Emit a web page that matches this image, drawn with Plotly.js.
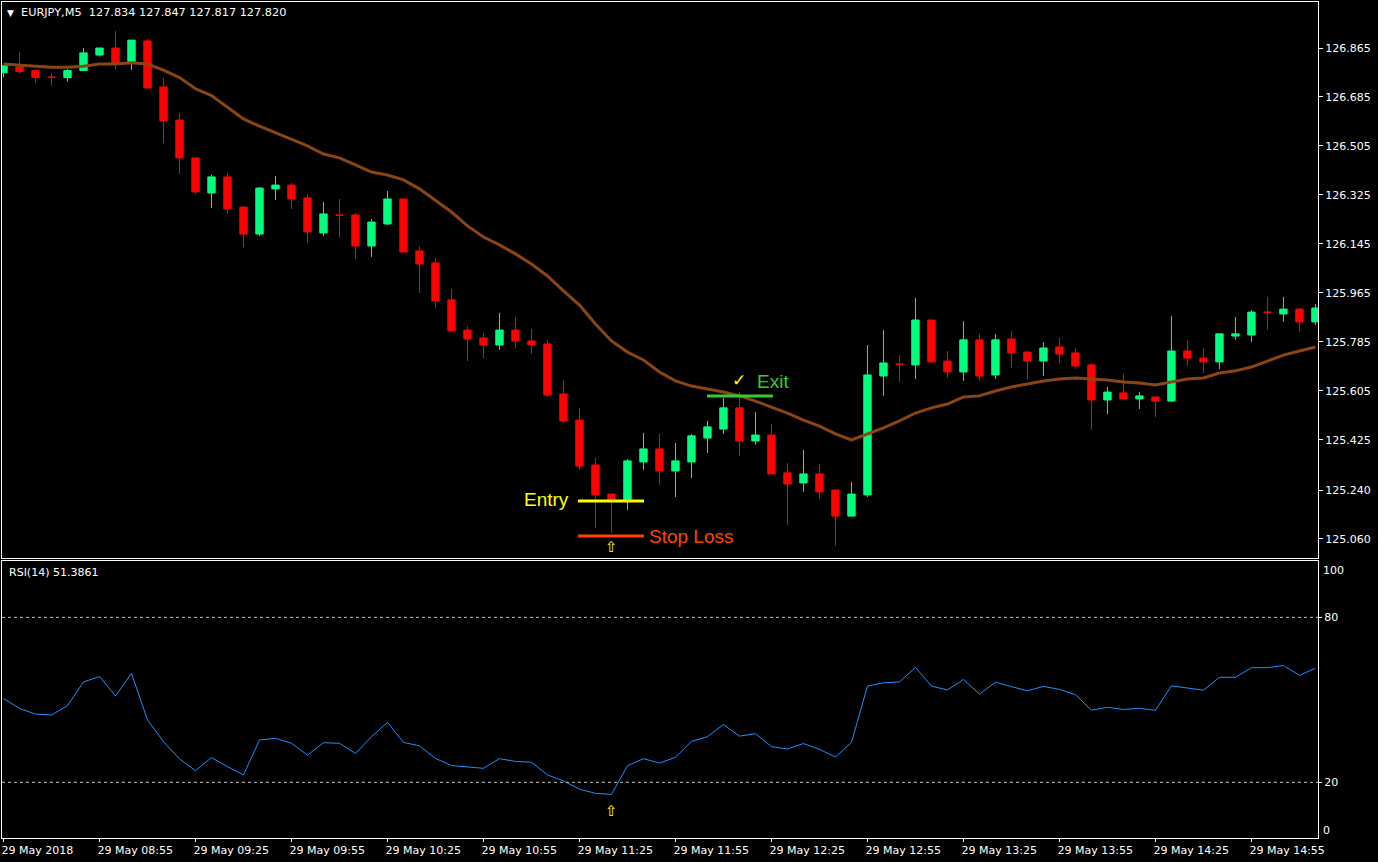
<!DOCTYPE html>
<html>
<head>
<meta charset="utf-8">
<script src="https://cdn.plot.ly/plotly-3.0.1.min.js"></script>
<style>
  html, body { margin: 0; padding: 0; background: #000; }
  #chart { width: 1378px; height: 862px; }
</style>
</head>
<body>
<div id="chart"></div>
<script>
// ---- Data (EURJPY, M5, 29 May 2018) ----
const times = [
  "08:25","08:30","08:35","08:40","08:45","08:50","08:55","09:00","09:05","09:10",
  "09:15","09:20","09:25","09:30","09:35","09:40","09:45","09:50","09:55","10:00",
  "10:05","10:10","10:15","10:20","10:25","10:30","10:35","10:40","10:45","10:50",
  "10:55","11:00","11:05","11:10","11:15","11:20","11:25","11:30","11:35","11:40",
  "11:45","11:50","11:55","12:00","12:05","12:10","12:15","12:20","12:25","12:30",
  "12:35","12:40","12:45","12:50","12:55","13:00","13:05","13:10","13:15","13:20",
  "13:25","13:30","13:35","13:40","13:45","13:50","13:55","14:00","14:05","14:10",
  "14:15","14:20","14:25","14:30","14:35","14:40","14:45","14:50","14:55","15:00",
  "15:05","15:10","15:15"
];

const open = [
  126.774,126.795,126.782,126.758,126.756,126.782,126.839,126.865,126.815,126.891,
  126.722,126.600,126.461,126.332,126.391,126.280,126.181,126.347,126.361,126.314,
  126.185,126.251,126.251,126.137,126.218,126.310,126.119,126.075,125.939,125.828,
  125.799,125.773,125.828,125.788,125.777,125.593,125.497,125.332,125.225,125.203,
  125.343,125.391,125.310,125.343,125.431,125.464,125.542,125.420,125.442,125.303,
  125.266,125.299,125.240,125.144,125.222,125.659,125.703,125.700,125.865,125.714,
  125.674,125.792,125.663,125.795,125.747,125.714,125.766,125.744,125.700,125.571,
  125.597,125.575,125.582,125.567,125.751,125.725,125.711,125.806,125.810,125.894,
  125.887,125.905,125.858
];
const high = [
  126.800,126.850,126.787,126.773,126.787,126.865,126.865,126.928,126.894,126.898,
  126.755,126.626,126.461,126.399,126.405,126.284,126.354,126.394,126.369,126.328,
  126.299,126.310,126.258,126.236,126.339,126.310,126.137,126.093,125.979,125.843,
  125.817,125.891,125.876,125.832,125.792,125.644,125.542,125.358,125.225,125.354,
  125.450,125.446,125.413,125.446,125.494,125.578,125.600,125.527,125.483,125.339,
  125.387,125.336,125.244,125.269,125.773,125.828,125.736,125.946,125.865,125.751,
  125.861,125.814,125.814,125.825,125.751,125.784,125.799,125.762,125.707,125.619,
  125.667,125.600,125.582,125.880,125.792,125.762,125.814,125.876,125.902,125.950,
  125.950,125.909,125.924
];
const low = [
  126.757,126.771,126.737,126.726,126.741,126.782,126.833,126.788,126.784,126.714,
  126.516,126.402,126.328,126.277,126.255,126.133,126.174,126.306,126.273,126.148,
  126.174,126.167,126.089,126.097,126.214,126.115,125.964,125.909,125.821,125.714,
  125.725,125.755,125.762,125.740,125.582,125.486,125.314,125.100,125.082,125.167,
  125.314,125.258,125.214,125.284,125.376,125.446,125.365,125.406,125.299,125.111,
  125.233,125.207,125.034,125.144,125.214,125.586,125.637,125.648,125.707,125.652,
  125.641,125.641,125.648,125.689,125.648,125.659,125.707,125.685,125.461,125.519,
  125.575,125.538,125.508,125.564,125.696,125.670,125.685,125.792,125.784,125.828,
  125.858,125.821,125.847
];
const close = [
  126.800,126.778,126.756,126.757,126.782,126.847,126.865,126.812,126.894,126.718,
  126.597,126.461,126.336,126.391,126.273,126.181,126.350,126.361,126.310,126.189,
  126.255,126.250,126.137,126.225,126.310,126.115,126.071,125.935,125.825,125.795,
  125.773,125.828,125.788,125.773,125.589,125.494,125.328,125.222,125.203,125.347,
  125.391,125.310,125.347,125.439,125.472,125.542,125.420,125.442,125.299,125.262,
  125.299,125.233,125.144,125.225,125.663,125.707,125.702,125.865,125.711,125.674,
  125.792,125.659,125.792,125.744,125.714,125.762,125.740,125.696,125.571,125.600,
  125.575,125.586,125.567,125.751,125.725,125.711,125.814,125.814,125.894,125.893,
  125.905,125.858,125.909
];
const movingAverage = [
  126.806,126.801,126.798,126.794,126.794,126.798,126.806,126.806,126.811,126.806,
  126.784,126.756,126.715,126.690,126.646,126.604,126.578,126.553,126.530,126.505,
  126.475,126.461,126.435,126.409,126.398,126.380,126.347,126.306,126.262,126.211,
  126.170,126.141,126.108,126.071,126.027,125.972,125.920,125.850,125.788,125.747,
  125.718,125.674,125.641,125.622,125.611,125.600,125.586,125.567,125.545,125.523,
  125.497,125.475,125.446,125.424,125.446,125.468,125.494,125.523,125.542,125.556,
  125.582,125.586,125.604,125.619,125.630,125.641,125.648,125.652,125.648,125.644,
  125.637,125.633,125.626,125.637,125.648,125.652,125.670,125.678,125.692,125.714,
  125.736,125.751,125.766
];
const rsi = [
  50.5,46.9,44.8,44.5,47.9,56.5,58.5,51.4,59.6,42.7,
  34.8,28.5,24.2,29.0,25.7,22.7,35.4,36.0,34.2,29.9,
  34.4,34.2,30.5,36.6,41.8,34.5,33.3,28.7,26.1,25.5,
  25.1,28.6,27.6,27.3,22.7,20.5,17.5,16.0,15.6,26.0,
  28.6,27.0,29.1,34.9,36.6,41.0,36.8,37.7,33.0,32.1,
  34.1,32.0,29.2,34.5,55.0,56.2,56.5,61.8,55.0,53.6,
  57.4,52.1,56.4,54.8,53.3,54.9,53.8,51.9,46.2,47.3,
  46.5,46.9,46.2,55.1,54.3,53.5,58.2,58.2,61.7,61.7,
  62.5,58.9,61.5
];

const priceTicks = [126.865,126.685,126.505,126.325,126.145,125.965,125.785,125.605,125.425,125.240,125.060];
const priceTickText = ["126.865","126.685","126.505","126.325","126.145","125.965","125.785","125.605","125.425","125.240","125.060"];
const timeTicks = ["08:25","08:55","09:25","09:55","10:25","10:55","11:25","11:55","12:25","12:55","13:25","13:55","14:25","14:55"];
const timeTickText = ["29 May 2018","29 May 08:55","29 May 09:25","29 May 09:55","29 May 10:25","29 May 10:55",
  "29 May 11:25","29 May 11:55","29 May 12:25","29 May 12:55","29 May 13:25","29 May 13:55","29 May 14:25","29 May 14:55"];
const rsiLevels = [80, 20];

const headerText = "EURJPY,M5\u00A0\u00A0127.834 127.847 127.817 127.820";
const rsiText = "RSI(14) 51.3861";
const entryPrice = 125.200;
const stopLossPrice = 125.071;
const exitPrice = 125.586;
const signalBar = "11:35";

// ---- Styles ----
const GREEN = '#00FF7F', RED = '#FF0000';
const FONT = 'DejaVu Sans, sans-serif';
const ARIAL = 'Liberation Sans, Arial, sans-serif';

const traces = [
  {
    type: 'candlestick', x: times, open: open, high: high, low: low, close: close,
    xaxis: 'x', yaxis: 'y',
    increasing: { line: { color: GREEN, width: 1 }, fillcolor: GREEN },
    decreasing: { line: { color: RED, width: 1 }, fillcolor: RED },
    whiskerwidth: 0, hoverinfo: 'skip', showlegend: false
  },
  {
    type: 'scatter', mode: 'lines', x: times, y: movingAverage,
    xaxis: 'x', yaxis: 'y',
    line: { color: '#8B4513', width: 3 }, hoverinfo: 'skip', showlegend: false
  },
  {
    type: 'scatter', mode: 'lines', x: times, y: rsi,
    xaxis: 'x2', yaxis: 'y2',
    line: { color: '#1E90FF', width: 1 }, hoverinfo: 'skip', showlegend: false
  }
];

const signalIdx = times.indexOf(signalBar);

const shapes = [];
rsiLevels.forEach(v => shapes.push({
  type: 'line', xref: 'paper', yref: 'y2', x0: 0, x1: 1, y0: v, y1: v,
  line: { color: '#C0C0C0', width: 1, dash: '3px,3px' }
}));
shapes.push({ type: 'line', xref: 'x', yref: 'y', x0: 35.91, x1: 40.03, y0: entryPrice, y1: entryPrice,
  line: { color: '#FFFF00', width: 3 } });
shapes.push({ type: 'line', xref: 'x', yref: 'y', x0: 35.91, x1: 40.03, y0: stopLossPrice, y1: stopLossPrice,
  line: { color: '#FF4500', width: 3 } });
shapes.push({ type: 'line', xref: 'x', yref: 'y', x0: 43.97, x1: 48.09, y0: exitPrice, y1: exitPrice,
  line: { color: '#32CD32', width: 3 } });

const annotations = [
  { xref: 'paper', yref: 'paper', x: 0.0065, y: 0.9872, xanchor: 'center', yanchor: 'middle',
    text: '\u25BC', showarrow: false, font: { family: FONT, size: 9, color: '#FFFFFF' } },
  { xref: 'paper', yref: 'paper', x: 0.0128, y: 0.9872, xanchor: 'left', yanchor: 'middle',
    text: headerText, showarrow: false, font: { family: FONT, size: 11.3, color: '#FFFFFF' } },
  { xref: 'paper', yref: 'paper', x: 0.0035, y: 0.3173, xanchor: 'left', yanchor: 'middle',
    text: rsiText, showarrow: false, font: { family: FONT, size: 11, color: '#FFFFFF' } },
  { xref: 'paper', yref: 'paper', x: 1.0022, y: 0.3196, xanchor: 'left', yanchor: 'middle',
    text: '100', showarrow: false, font: { family: FONT, size: 11, color: '#FFFFFF' } },
  { xref: 'paper', yref: 'paper', x: 1.0022, y: 0.0092, xanchor: 'left', yanchor: 'middle',
    text: '0', showarrow: false, font: { family: FONT, size: 11, color: '#FFFFFF' } },
  { xref: 'x', yref: 'y', x: 35.5, y: 125.204, xanchor: 'right', yanchor: 'middle',
    text: 'Entry', showarrow: false, font: { family: ARIAL, size: 19, color: '#FFFF00' } },
  { xref: 'x', yref: 'y', x: 40.2, y: 125.0675, xanchor: 'left', yanchor: 'middle',
    text: 'Stop Loss', showarrow: false, font: { family: ARIAL, size: 19, color: '#FF4500' } },
  { xref: 'x', yref: 'y', x: 46.95, y: 125.639, xanchor: 'left', yanchor: 'middle',
    text: 'Exit', showarrow: false, font: { family: ARIAL, size: 19, color: '#32CD32' } },
  { xref: 'x', yref: 'y', x: 45.94, y: 125.644, xanchor: 'center', yanchor: 'middle',
    text: '\u2713', showarrow: false, font: { family: FONT, size: 17, color: '#FFFF00' } },
  { xref: 'x', yref: 'y', x: signalIdx, y: 125.029, xanchor: 'center', yanchor: 'middle',
    text: '\u21E7', showarrow: false, font: { family: FONT, size: 15, color: '#FFFF00' } },
  { xref: 'x2', yref: 'y2', x: signalIdx, y: 9.4, xanchor: 'center', yanchor: 'middle',
    text: '\u21E7', showarrow: false, font: { family: FONT, size: 15, color: '#FFFF00' } }
];

const axisCommon = {
  showgrid: false, zeroline: false, showline: true, mirror: true,
  linecolor: '#FFFFFF', linewidth: 1, fixedrange: true
};

const layout = {
  width: 1378, height: 862,
  paper_bgcolor: '#000000', plot_bgcolor: '#000000',
  margin: { l: 2, r: 60, t: 2, b: 24, pad: 0 },
  showlegend: false,
  boxgap: 0.34,
  font: { family: FONT, size: 11, color: '#FFFFFF' },
  xaxis: Object.assign({}, axisCommon, {
    type: 'category', domain: [0, 1], anchor: 'y', range: [-0.094, 82.16],
    ticks: '', showticklabels: false, rangeslider: { visible: false }
  }),
  yaxis: Object.assign({}, axisCommon, {
    domain: [0.33493, 1], anchor: 'x', range: [124.990, 127.0341], side: 'right',
    ticks: 'outside', ticklen: 4, tickcolor: '#FFFFFF',
    tickmode: 'array', tickvals: priceTicks, ticktext: priceTickText,
    tickfont: { family: FONT, size: 11, color: '#FFFFFF' }
  }),
  xaxis2: Object.assign({}, axisCommon, {
    type: 'category', domain: [0, 1], anchor: 'y2', range: [-0.094, 82.16],
    ticks: 'outside', ticklen: 3, tickcolor: '#FFFFFF',
    tickmode: 'array', tickvals: timeTicks, ticktext: timeTickText,
    ticklabelposition: 'outside right', ticklabelshift: -3, ticklabelstandoff: 2,
    tickfont: { family: FONT, size: 11, color: '#FFFFFF' }
  }),
  yaxis2: Object.assign({}, axisCommon, {
    domain: [0, 0.33134], anchor: 'x2', range: [-0.25, 100.5], side: 'right',
    ticks: 'outside', ticklen: 3, tickcolor: '#FFFFFF',
    tickmode: 'array', tickvals: rsiLevels, ticktext: rsiLevels.map(String),
    tickfont: { family: FONT, size: 11, color: '#FFFFFF' }
  }),
  shapes: shapes,
  annotations: annotations
};

Plotly.newPlot('chart', traces, layout, { displayModeBar: false, staticPlot: true });
</script>
</body>
</html>
